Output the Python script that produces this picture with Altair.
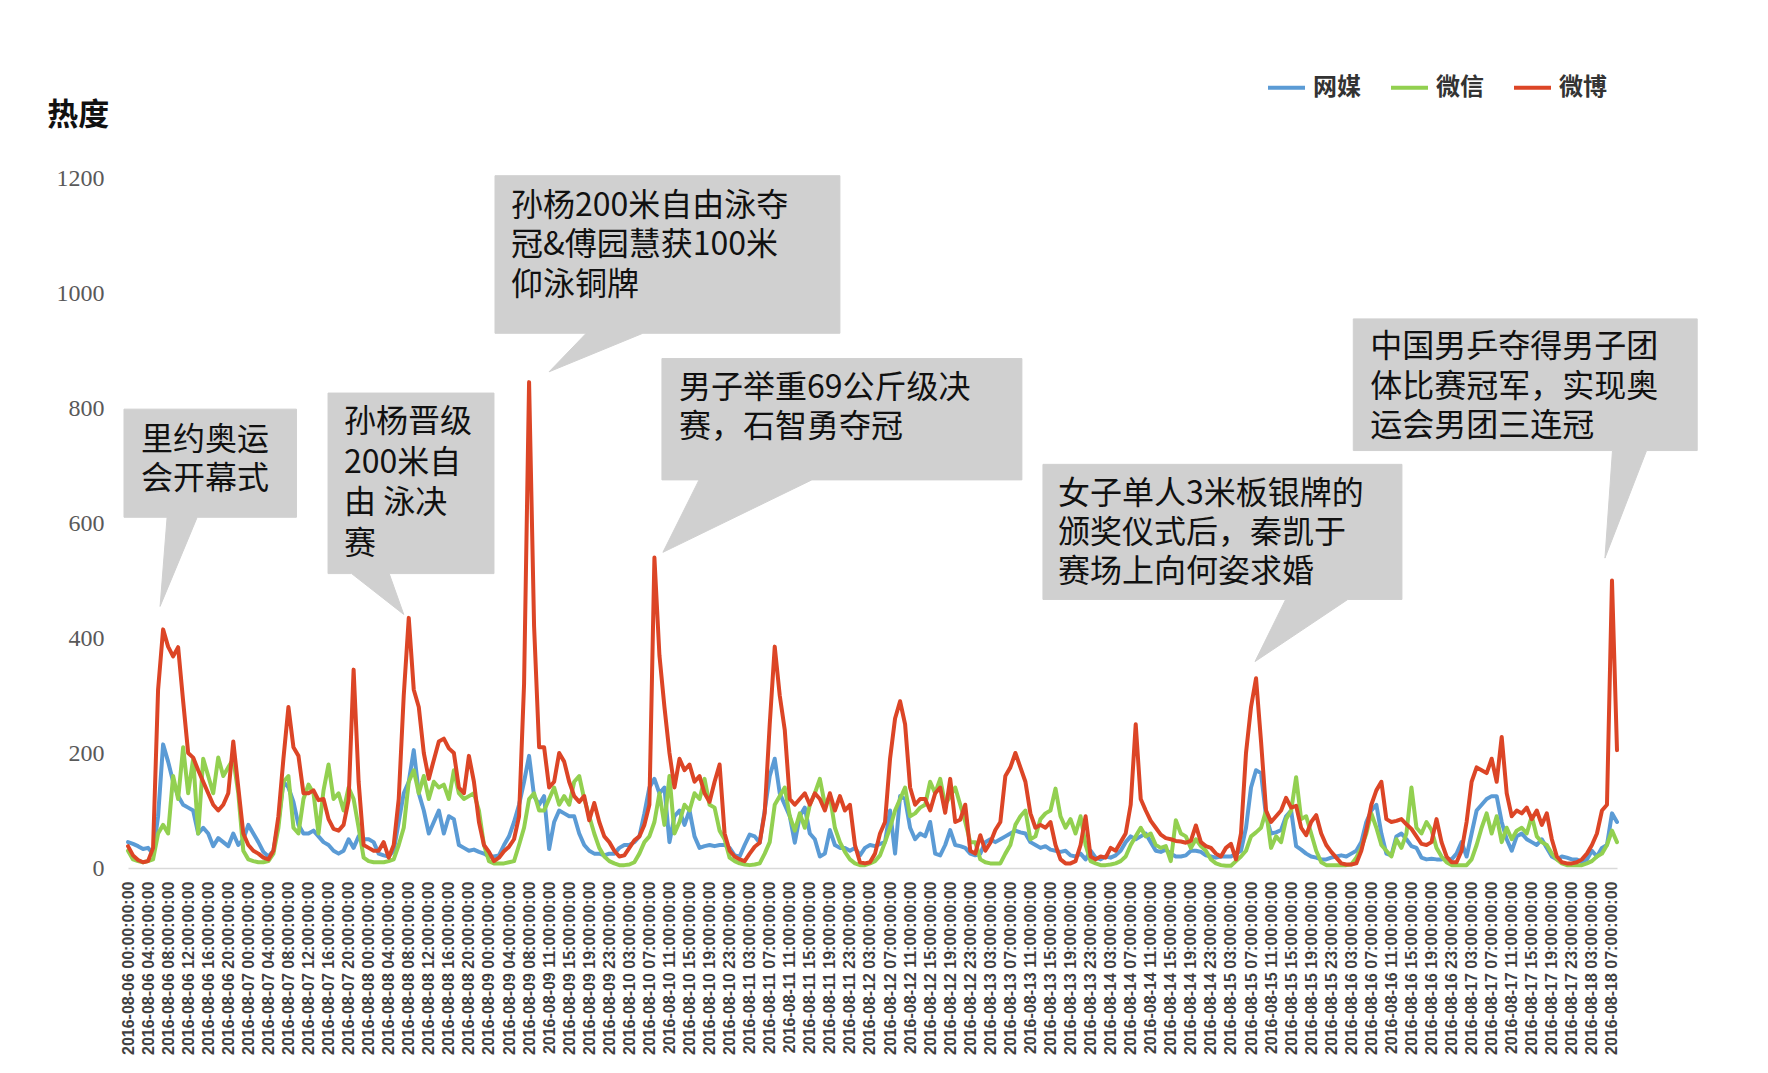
import json
import altair as alt
import pandas as pd

# ---------------- data ----------------
SERIES = ["网媒", "微信", "微博"]
COLORS = ["#5b9bd5", "#92d050", "#dc4526"]

def hours(day, hs):
    return ["2016-08-%s %s:00" % (day, h) for h in hs]

H24 = ["%02d:00" % h for h in range(24)]
TIMES = (hours("06", H24) + hours("07", H24) + hours("08", H24)
         + hours("09", H24[:9] + ["09:00", "09:30", "10:00"] + H24[11:])
         + hours("10", H24) + hours("11", H24) + hours("12", H24) + hours("13", H24)
         + hours("14", H24) + hours("15", H24) + hours("16", H24) + hours("17", H24)
         + hours("18", H24[:9]))

RED = ([38,22,14,10,12,35,310,415,385,368,384,290,200,192,170,150,130,110,100,110,130,220,140,60]
     + [40,30,25,18,15,30,90,190,280,210,195,130,130,135,118,120,85,68,65,75,118,345,150,40]
     + [35,30,30,45,18,40,120,300,435,310,280,200,155,188,220,225,208,200,140,130,195,150,80,40]
     + [28,12,18,29,37,50,90,320,845,420,210,210,140,150,200,185,150,125,115,125,83,113,80,55,45]
     + [30,20,22,35,48,55,75,110,540,370,280,200,140,190,170,180,150,160,130,115,150,180,60,30]
     + [20,15,12,25,37,44,96,250,385,300,240,120,110,120,130,110,130,120,100,130,100,125,100,110]
     + [40,10,8,10,25,60,80,190,260,290,250,140,110,120,120,100,130,140,96,155,80,84,110,30]
     + [25,57,30,44,66,80,160,175,200,175,150,95,70,75,70,80,40,15,8,8,12,40,90,20]
     + [15,20,18,35,30,45,60,110,250,120,100,82,70,58,52,50,47,46,44,47,74,45,38,35]
     + [25,20,35,42,15,60,200,280,330,220,100,80,90,100,122,105,108,70,57,80,92,60,40,28]
     + [18,8,6,6,8,30,66,110,135,150,85,80,82,85,76,68,55,42,40,45,85,45,20,10]
     + [10,30,80,150,175,170,165,190,150,228,130,90,100,95,105,85,100,75,95,50,20,10,8,8]
     + [10,15,25,40,60,100,110,500,205])

BLUE = ([45,42,38,33,35,25,90,215,185,150,125,110,105,100,60,70,60,38,52,45,38,60,40,50]
      + [75,60,45,28,20,30,80,150,140,115,75,60,60,65,55,45,40,30,25,30,50,35,55,50]
      + [50,45,25,22,20,30,80,130,150,205,130,100,60,80,100,60,90,85,40,35,30,32,28,25]
      + [20,20,22,40,55,80,110,150,195,125,110,125,33,80,100,95,90,90,60,40,30,25,25,22,25]
      + [25,35,40,40,45,55,95,140,155,130,140,45,90,100,75,100,55,35,38,40,38,40,40,35]
      + [22,20,40,58,55,44,100,160,190,130,110,90,44,90,105,60,50,20,25,66,40,35,35,30]
      + [35,22,35,40,38,42,45,100,25,125,120,70,50,60,55,80,25,22,40,66,40,38,35,25]
      + [22,25,45,50,45,50,55,60,65,62,60,45,40,35,38,32,30,28,30,22,20,25,15,30]
      + [18,15,20,18,22,30,45,55,50,55,60,45,30,28,32,25,20,20,22,30,30,28,22,20]
      + [18,20,20,20,25,30,70,140,170,165,90,60,62,66,90,100,38,32,25,20,18,15,15,18]
      + [20,22,20,25,30,45,80,100,110,60,25,22,55,60,50,38,35,18,15,16,15,15,16,15]
      + [25,45,20,60,100,110,120,125,125,80,50,30,55,60,50,45,40,50,35,20,15,20,18,15]
      + [15,10,15,30,20,35,40,95,80])

GREEN = ([30,15,12,10,12,15,60,75,60,160,120,210,130,190,60,190,160,130,192,160,175,190,130,30]
       + [15,12,10,10,12,25,70,150,160,70,60,120,145,130,60,135,180,120,130,100,140,120,70,18]
       + [12,10,10,10,12,15,40,70,150,170,130,160,120,150,140,145,120,170,130,120,125,130,100,40]
       + [12,8,8,8,10,12,40,70,120,130,100,100,120,140,110,125,110,150,160,120,90,60,35,20,12]
       + [8,5,5,6,10,25,45,55,80,130,75,160,60,80,110,100,130,120,155,110,105,65,50,18]
       + [12,8,6,5,6,8,25,45,110,125,140,90,65,95,70,110,130,155,110,125,70,45,28,15]
       + [8,5,5,8,12,22,45,70,100,120,140,90,95,105,110,150,130,155,110,125,140,110,80,45]
       + [45,15,10,8,8,8,25,40,75,90,100,50,55,85,95,100,138,90,70,85,60,90,40,12]
       + [8,5,5,6,8,12,20,40,55,70,55,60,40,35,38,12,83,60,55,35,50,38,30,15]
       + [8,5,4,4,12,20,30,55,62,70,100,35,55,45,85,100,158,85,90,60,30,10,5,5]
       + [5,5,5,6,18,35,60,95,70,40,30,20,50,35,60,140,70,60,80,66,35,20,10,5]
       + [5,5,5,15,40,70,95,60,90,45,70,50,65,70,60,90,55,45,40,25,15,8,5,5]
       + [5,5,8,12,20,25,40,65,45])

N = len(TIMES)
TICK_IDX = list(range(0, N, 4))
TICK_LABELS = [TIMES[i] + ":00" for i in TICK_IDX]
Y_TICKS = [0, 200, 400, 600, 800, 1000, 1200]

# call-outs (positions in data space: x = time index, y = 热度)
CALLOUT_TEXT = [
    ["里约奥运", "会开幕式"],
    ["孙杨晋级", "200米自", "由 泳决", "赛"],
    ["孙杨200米自由泳夺", "冠&傅园慧获100米", "仰泳铜牌"],
    ["男子举重69公斤级决", "赛，石智勇夺冠"],
    ["女子单人3米板银牌的", "颁奖仪式后，秦凯于", "赛场上向何姿求婚"],
    ["中国男乒夺得男子团", "体比赛冠军，实现奥", "运会男团三连冠"],
]
CALLOUT_BOX = [(-0.8, 33.6, 798, 610), (39.9, 73.0, 826, 512), (73.2, 142.0, 1204, 930),
               (106.5, 178.3, 886, 675), (182.5, 254.1, 702, 467), (244.4, 313.0, 955, 726)]
CALLOUT_PTR = [(7.8, 13.8, 6.4, 455), (44.6, 52.1, 55.0, 441), (91.4, 102.7, 84.0, 863),
               (113.9, 136.4, 106.7, 549), (230.9, 243.3, 224.8, 359), (296.1, 302.9, 294.6, 539)]
CALLOUT_TEXT_X = [2.6, 43.1, 76.4, 109.9, 185.5, 247.8]
CALLOUT_LINE_Y = [[745, 677], [775, 704, 634, 563], [1151, 1083, 1014],
                  [834, 767], [651, 582, 514], [906, 837, 769]]
YTITLE = ("热度", -16.1, 1308)

# ---------------- tables ----------------
rows = []
for s, vals in zip(SERIES, [BLUE, GREEN, RED]):
    for i, v in enumerate(vals):
        rows.append({"idx": i, "value": v, "series": s, "time": TIMES[i]})
df = pd.DataFrame(rows)

poly = []
for c, ((x0, x1, t, b), (bl, br, tx, ty)) in enumerate(zip(CALLOUT_BOX, CALLOUT_PTR)):
    pts = [(x0, t), (x1, t), (x1, b), (br, b), (tx, ty), (bl, b), (x0, b)]
    for k, (px, py) in enumerate(pts):
        poly.append({"cid": c, "ord": k, "idx": px, "value": py})
poly_df = pd.DataFrame(poly)

txt = []
for c, lines in enumerate(CALLOUT_TEXT):
    for line, y in zip(lines, CALLOUT_LINE_Y[c]):
        txt.append({"idx": CALLOUT_TEXT_X[c], "value": y, "text": line})
txt_df = pd.DataFrame(txt)
ytitle_df = pd.DataFrame([{"idx": YTITLE[1], "value": YTITLE[2], "text": YTITLE[0]}])

# ---------------- encodings ----------------
label_expr = "%s[round(datum.value / 4)]" % json.dumps(TICK_LABELS, ensure_ascii=False)
X_SCALE = alt.Scale(domain=[0, N - 1], nice=False, zero=False)
Y_SCALE = alt.Scale(domain=[0, 1200], nice=False, zero=True)
X_AXIS = alt.Axis(values=TICK_IDX, labelExpr=label_expr, labelAngle=270, labelAlign="right",
                  labelBaseline="middle", labelFont="Liberation Sans", labelFontSize=16,
                  labelFontWeight="bold", labelColor="#404040", labelPadding=13,
                  labelLimit=0, labelOverlap=False, labelFlush=False, ticks=False,
                  domain=True, domainColor="#d9d9d9", domainWidth=1.5, grid=False, title=None)
Y_AXIS = alt.Axis(values=Y_TICKS, format="d", labelFont="Liberation Serif", labelFontSize=24,
                  labelColor="#595959", labelPadding=24, ticks=False, domain=False,
                  grid=False, title=None)
X = alt.X("idx:Q", scale=X_SCALE, axis=X_AXIS)
Y = alt.Y("value:Q", scale=Y_SCALE, axis=Y_AXIS)

color = alt.Color("series:N", scale=alt.Scale(domain=SERIES, range=COLORS),
                  legend=alt.Legend(orient="none", legendX=1138, legendY=-111,
                                    direction="horizontal", title=None, symbolType="stroke",
                                    symbolStrokeWidth=4, symbolSize=1369,
                                    labelFont="Noto Sans CJK SC", labelFontSize=24,
                                    labelFontWeight="bold", labelColor="#333333",
                                    labelOffset=6, columnPadding=22))

base = alt.Chart(df).mark_line(strokeWidth=4, strokeJoin="round", strokeCap="round").encode(
    x=X, y=Y, color=color, order="idx:Q")
line_layers = [base.transform_filter(alt.datum.series == s) for s in SERIES]

boxes = alt.Chart(poly_df).mark_line(fill="#d0d0d0", stroke="#d0d0d0", strokeWidth=1,
                                     interpolate="linear-closed").encode(
    x=X, y=Y, detail="cid:N", order="ord:Q")

texts = alt.Chart(txt_df).mark_text(align="left", baseline="middle", font="Noto Sans CJK SC",
                                    fontSize=32, color="#111111").encode(
    x=X, y=Y, text="text:N")

ytitle = alt.Chart(ytitle_df).mark_text(align="left", baseline="middle", font="Noto Sans CJK SC",
                                        fontSize=31, fontWeight="bold", color="#111111").encode(
    x=X, y=Y, text="text:N")

chart = alt.layer(*line_layers, boxes, texts, ytitle).properties(
    width=1489, height=690,
    padding={"left": 120, "top": 170, "right": 130, "bottom": 200},
    autosize=alt.AutoSizeParams(type="none"),
    background="white",
).configure_view(stroke=None)

chart.save("out.html", embed_options={"renderer": "svg", "actions": False})
